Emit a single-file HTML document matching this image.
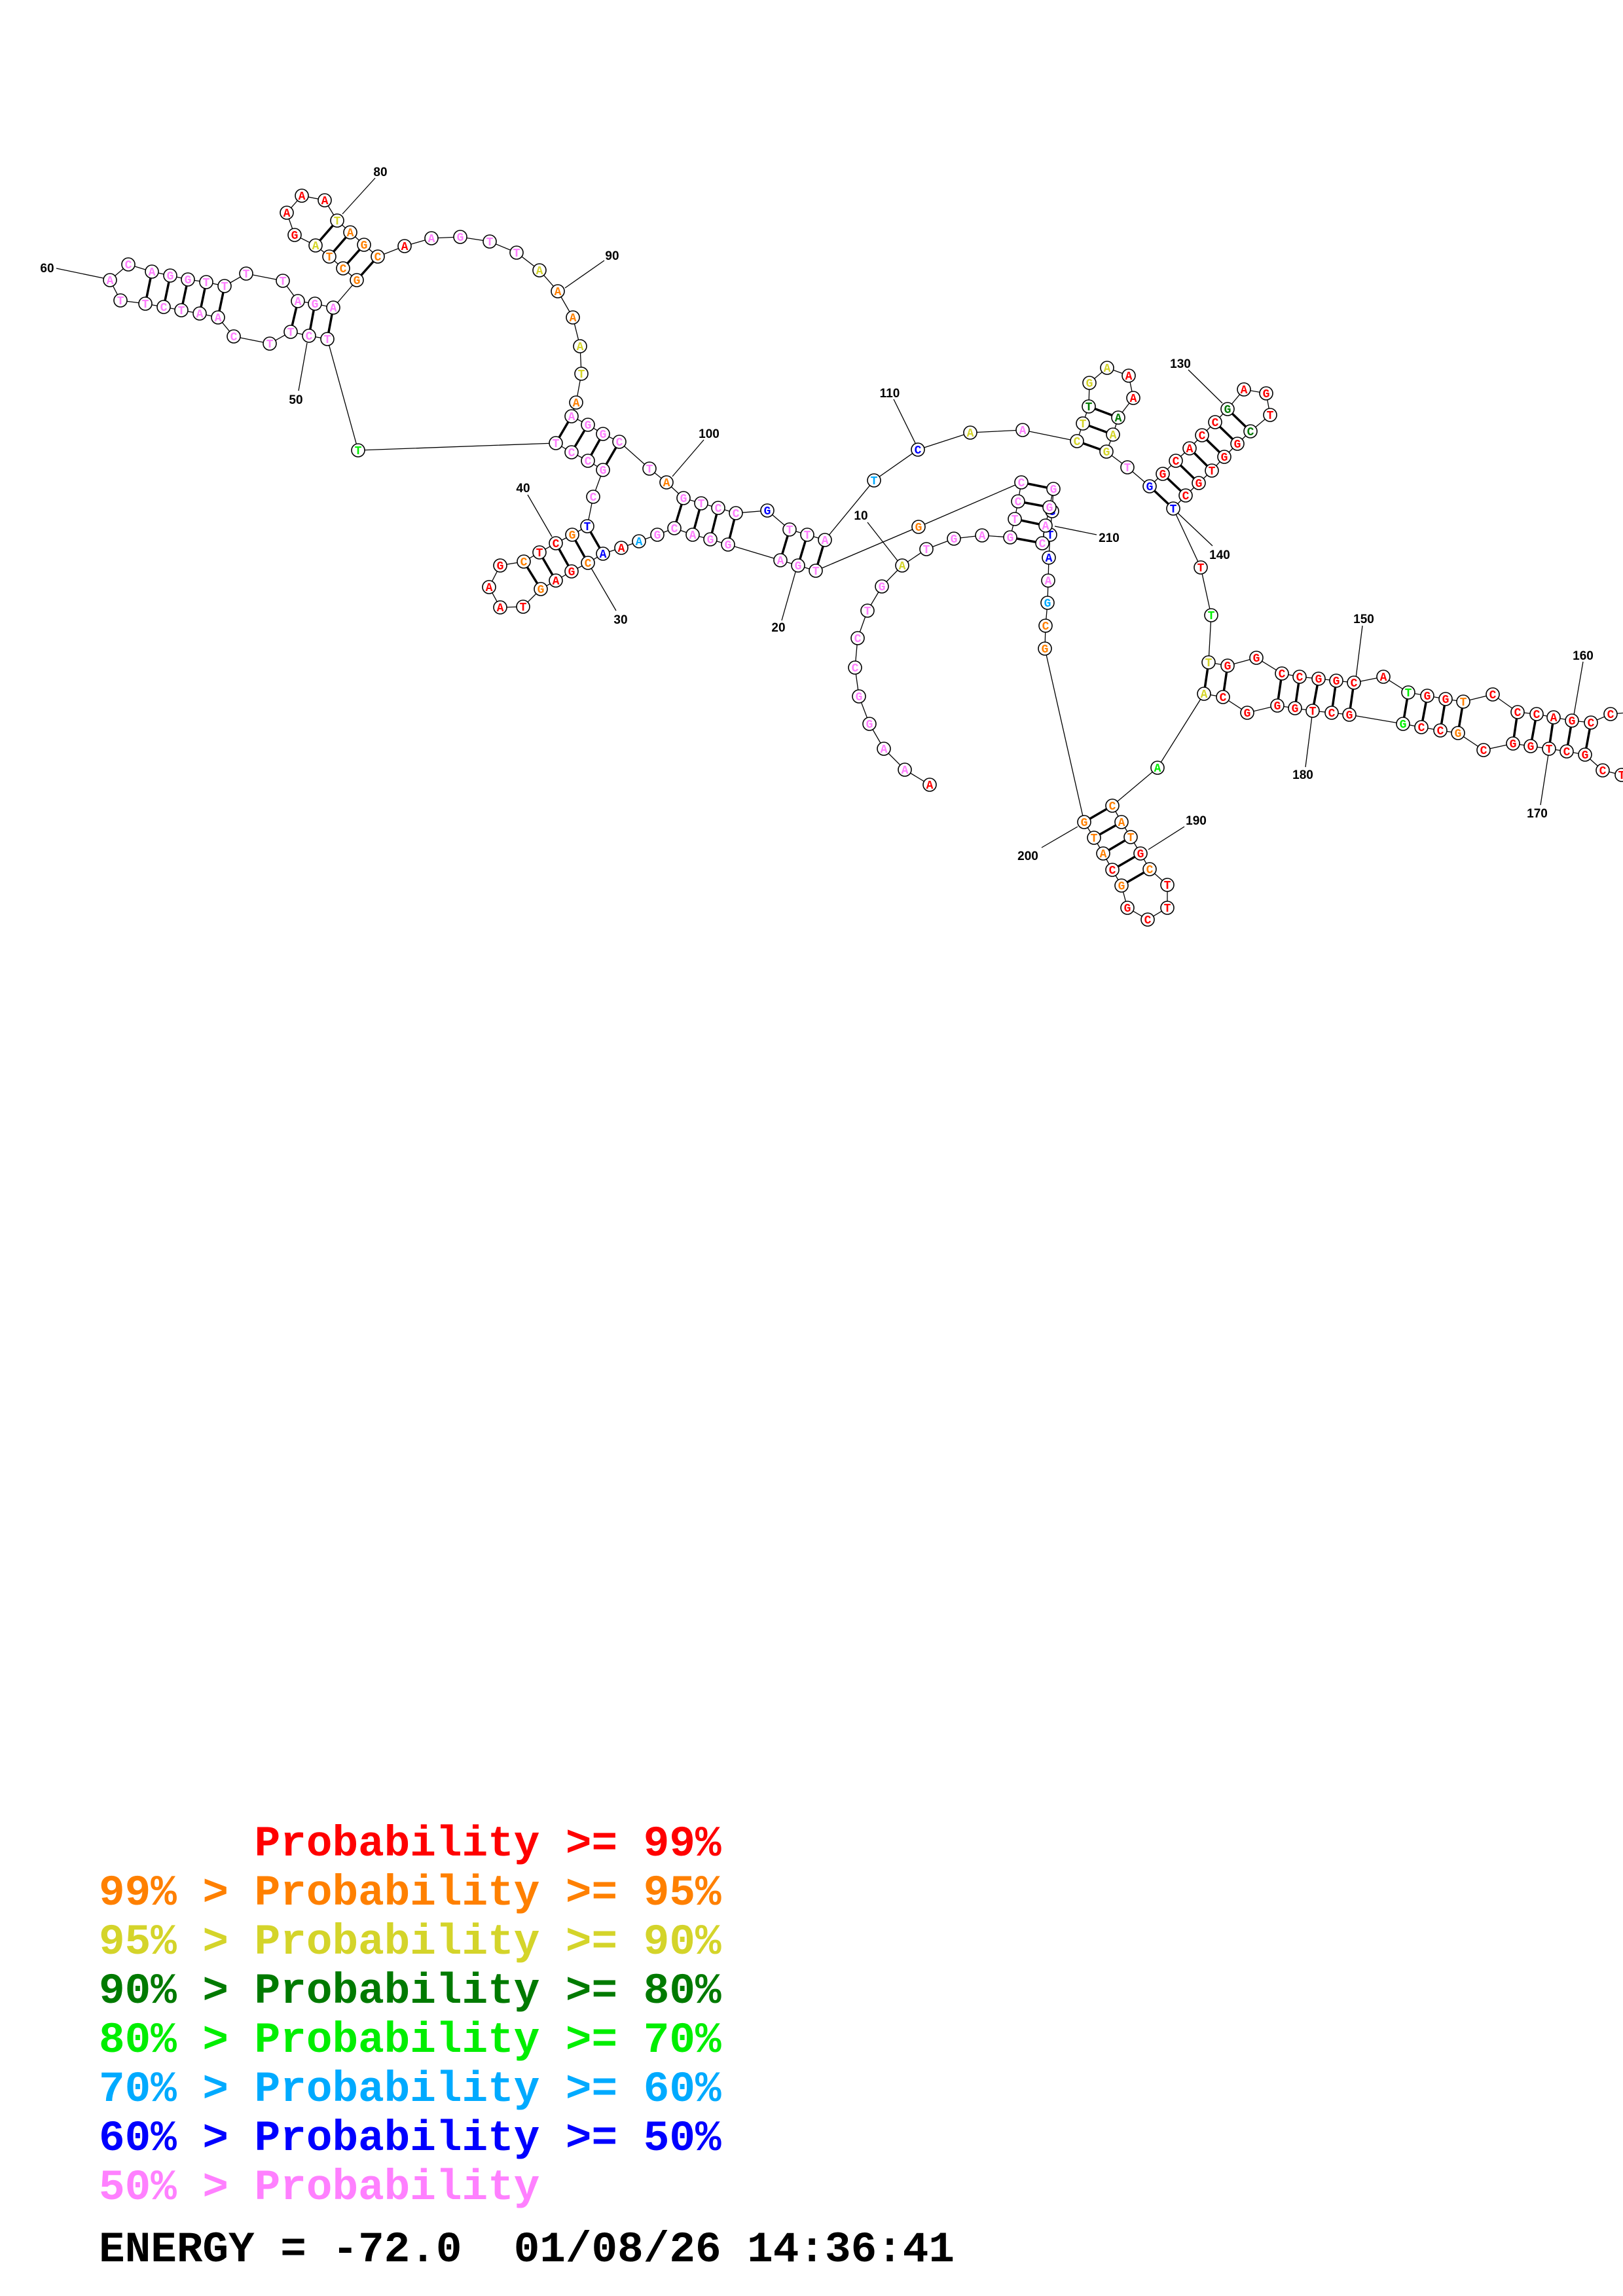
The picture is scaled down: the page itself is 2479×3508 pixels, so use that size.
<!DOCTYPE html>
<html><head><meta charset="utf-8"><style>
html,body{margin:0;padding:0;background:#fff;}
body{width:2479px;height:3508px;position:relative;overflow:hidden;}
svg{position:absolute;left:0;top:0;}
.n circle{fill:#fff;stroke:#000;stroke-width:1.6}
.n text{font-family:"Liberation Mono",monospace;font-weight:bold;font-size:18px;text-anchor:middle}
.r{fill:#ff0000}.o{fill:#ff8000}.y{fill:#d4d42a}.d{fill:#007a00}.g{fill:#00ee00}.c{fill:#00aaff}.b{fill:#0000ff}.p{fill:#ff80ff}
.lb{font-family:"Liberation Sans",sans-serif;font-weight:bold;font-size:19px;text-anchor:middle;fill:#000}
.leg{position:absolute;left:151px;margin:0;font-family:"Liberation Mono",monospace;font-weight:bold;font-size:66px;line-height:75px;white-space:pre;}
</style></head><body>
<svg width="2479" height="3508" viewBox="0 0 2479 3508">
<g fill="none" stroke="#000" stroke-width="1.3">
<polyline points="1420,1199 1382,1176 1350,1144 1328,1106 1312,1064 1306,1020 1310,975 1325,933 1347,896 1378,864 1415,839 1457,823 1500,818 1543,821 1550,793 1555,766 1560,737 1403,805 1246,872 1219,864 1192,856 1112,832 1085,824 1058,817 1030,807 1004,817 976,827 949,837 921,846 898,860 873,873 849,887 826,900 799,927 764,928 747,897 764,864 800,858 824,844 849,830 874,817 897,804 906,759 921,718 898,704 873,691 849,677 547,688 500,518 472,513 444,507 412,525 357,514 333,485 305,479 277,474 250,469 222,464 184,459 168,428 196,404 232,415 260,421 287,427 315,431 343,437 376,418 432,429 455,460 481,464 509,470 545,428 524,410 503,392 482,375 450,359 438,325 461,299 496,306 515,337 535,355 556,374 577,392 618,376 659,364 703,362 748,369 789,386 824,413 852,445 875,485 886,529 888,571 880,615 873,636 898,649 921,663 946,675 992,716 1018,737 1044,761 1071,769 1097,776 1124,784 1172,780 1206,809 1233,817 1260,825 1335,734 1402,687 1482,661 1562,657 1645,674 1654,647 1663,621 1664,585 1691,562 1724,574 1731,608 1708,638 1700,664 1690,690 1722,714 1756,743 1776,724 1796,704 1817,685 1836,665 1856,645 1875,625 1900,595 1934,601 1940,634 1910,659 1890,678 1870,698 1851,719 1831,738 1811,757 1792,777 1834,867 1850,940 1846,1012 1875,1017 1919,1005 1958,1029 1985,1034 2014,1037 2041,1040 2068,1043 2113,1034 2151,1058 2180,1063 2208,1068 2235,1072 2280,1061 2318,1088 2347,1091 2373,1096 2401,1101 2430,1104 2460,1091 2495,1088"/>
<polyline points="2500,1192 2477,1184 2448,1177 2421,1153 2393,1148 2366,1144 2338,1140 2311,1136 2266,1146 2227,1120 2200,1116 2171,1111 2143,1106 2061,1092 2034,1089 2005,1086 1978,1082 1951,1078 1905,1089 1868,1065 1839,1060 1768,1173 1699,1231 1713,1256 1727,1279 1742,1304 1756,1328 1783,1352 1783,1387 1753,1405 1722,1387 1713,1353 1699,1329 1685,1304 1671,1280 1656,1256 1596,991 1597,956 1600,921 1601,887 1602,852 1604,817 1607,781 1609,747 1603,775 1597,803 1592,830"/>
<!-- label lines -->
<path d="M86,410L158,425M469,524L456,597M573,272L523,327M863,440L923,398M1075,672L1027,728M806,756L843,820M941,933L903,868M1215,874L1194,948M1365,610L1398,677M1325,798L1372,858M1611,804L1675,817M1815,565L1867,616M1798,783L1852,834M2081,956L2071,1036M2005,1086L1994,1172M2418,1011L2403,1098M2366,1146L2353,1230M1754,1298L1809,1263M1591,1295L1646,1263"/>
</g>
<g stroke="#000" stroke-width="3.5">
<path d="M1543,821L1592,830M1550,793L1597,803M1555,766L1603,775M1560,737L1609,747M1246,872L1260,825M1219,864L1233,817M1192,856L1206,809M1112,832L1124,784M1085,824L1097,776M1058,817L1071,769M1030,807L1044,761M921,846L897,804M898,860L874,817M873,873L849,830M849,887L824,844M826,900L800,858M921,718L946,675M898,704L921,663M873,691L898,649M849,677L873,636M500,518L509,470M472,513L481,464M444,507L455,460M333,485L343,437M305,479L315,431M277,474L287,427M250,469L260,421M222,464L232,415M545,428L577,392M524,410L556,374M503,392L535,355M482,375L515,337M1645,674L1690,690M1654,647L1700,664M1663,621L1708,638M1756,743L1792,777M1776,724L1811,757M1796,704L1831,738M1817,685L1851,719M1836,665L1870,698M1856,645L1890,678M1875,625L1910,659M1846,1012L1839,1060M1875,1017L1868,1065M1958,1029L1951,1078M1985,1034L1978,1082M2014,1037L2005,1086M2041,1040L2034,1089M2068,1043L2061,1092M2151,1058L2143,1106M2180,1063L2171,1111M2208,1068L2200,1116M2235,1072L2227,1120M2318,1088L2311,1136M2347,1091L2338,1140M2373,1096L2366,1144M2401,1101L2393,1148M2430,1104L2421,1153M1699,1231L1656,1256M1713,1256L1671,1280M1727,1279L1685,1304M1742,1304L1699,1329M1756,1328L1713,1353"/>
</g>
<g class="n">
<circle cx="1420" cy="1199" r="10"/><text x="1420" y="1205" class="r">A</text>
<circle cx="1382" cy="1176" r="10"/><text x="1382" y="1182" class="p">A</text>
<circle cx="1350" cy="1144" r="10"/><text x="1350" y="1150" class="p">A</text>
<circle cx="1328" cy="1106" r="10"/><text x="1328" y="1112" class="p">G</text>
<circle cx="1312" cy="1064" r="10"/><text x="1312" y="1070" class="p">G</text>
<circle cx="1306" cy="1020" r="10"/><text x="1306" y="1026" class="p">C</text>
<circle cx="1310" cy="975" r="10"/><text x="1310" y="981" class="p">C</text>
<circle cx="1325" cy="933" r="10"/><text x="1325" y="939" class="p">T</text>
<circle cx="1347" cy="896" r="10"/><text x="1347" y="902" class="p">G</text>
<circle cx="1378" cy="864" r="10"/><text x="1378" y="870" class="y">A</text>
<circle cx="1415" cy="839" r="10"/><text x="1415" y="845" class="p">T</text>
<circle cx="1457" cy="823" r="10"/><text x="1457" y="829" class="p">G</text>
<circle cx="1500" cy="818" r="10"/><text x="1500" y="824" class="p">A</text>
<circle cx="1543" cy="821" r="10"/><text x="1543" y="827" class="p">G</text>
<circle cx="1550" cy="793" r="10"/><text x="1550" y="799" class="p">T</text>
<circle cx="1555" cy="766" r="10"/><text x="1555" y="772" class="p">C</text>
<circle cx="1560" cy="737" r="10"/><text x="1560" y="743" class="p">C</text>
<circle cx="1403" cy="805" r="10"/><text x="1403" y="811" class="o">G</text>
<circle cx="1246" cy="872" r="10"/><text x="1246" y="878" class="p">T</text>
<circle cx="1219" cy="864" r="10"/><text x="1219" y="870" class="p">G</text>
<circle cx="1192" cy="856" r="10"/><text x="1192" y="862" class="p">A</text>
<circle cx="1112" cy="832" r="10"/><text x="1112" y="838" class="p">G</text>
<circle cx="1085" cy="824" r="10"/><text x="1085" y="830" class="p">G</text>
<circle cx="1058" cy="817" r="10"/><text x="1058" y="823" class="p">A</text>
<circle cx="1030" cy="807" r="10"/><text x="1030" y="813" class="p">C</text>
<circle cx="1004" cy="817" r="10"/><text x="1004" y="823" class="p">G</text>
<circle cx="976" cy="827" r="10"/><text x="976" y="833" class="c">A</text>
<circle cx="949" cy="837" r="10"/><text x="949" y="843" class="r">A</text>
<circle cx="921" cy="846" r="10"/><text x="921" y="852" class="b">A</text>
<circle cx="898" cy="860" r="10"/><text x="898" y="866" class="o">C</text>
<circle cx="873" cy="873" r="10"/><text x="873" y="879" class="r">G</text>
<circle cx="849" cy="887" r="10"/><text x="849" y="893" class="r">A</text>
<circle cx="826" cy="900" r="10"/><text x="826" y="906" class="o">G</text>
<circle cx="799" cy="927" r="10"/><text x="799" y="933" class="r">T</text>
<circle cx="764" cy="928" r="10"/><text x="764" y="934" class="r">A</text>
<circle cx="747" cy="897" r="10"/><text x="747" y="903" class="r">A</text>
<circle cx="764" cy="864" r="10"/><text x="764" y="870" class="r">G</text>
<circle cx="800" cy="858" r="10"/><text x="800" y="864" class="o">C</text>
<circle cx="824" cy="844" r="10"/><text x="824" y="850" class="r">T</text>
<circle cx="849" cy="830" r="10"/><text x="849" y="836" class="r">C</text>
<circle cx="874" cy="817" r="10"/><text x="874" y="823" class="o">G</text>
<circle cx="897" cy="804" r="10"/><text x="897" y="810" class="b">T</text>
<circle cx="906" cy="759" r="10"/><text x="906" y="765" class="p">C</text>
<circle cx="921" cy="718" r="10"/><text x="921" y="724" class="p">G</text>
<circle cx="898" cy="704" r="10"/><text x="898" y="710" class="p">C</text>
<circle cx="873" cy="691" r="10"/><text x="873" y="697" class="p">C</text>
<circle cx="849" cy="677" r="10"/><text x="849" y="683" class="p">T</text>
<circle cx="547" cy="688" r="10"/><text x="547" y="694" class="g">T</text>
<circle cx="500" cy="518" r="10"/><text x="500" y="524" class="p">T</text>
<circle cx="472" cy="513" r="10"/><text x="472" y="519" class="p">C</text>
<circle cx="444" cy="507" r="10"/><text x="444" y="513" class="p">T</text>
<circle cx="412" cy="525" r="10"/><text x="412" y="531" class="p">T</text>
<circle cx="357" cy="514" r="10"/><text x="357" y="520" class="p">C</text>
<circle cx="333" cy="485" r="10"/><text x="333" y="491" class="p">A</text>
<circle cx="305" cy="479" r="10"/><text x="305" y="485" class="p">A</text>
<circle cx="277" cy="474" r="10"/><text x="277" y="480" class="p">T</text>
<circle cx="250" cy="469" r="10"/><text x="250" y="475" class="p">C</text>
<circle cx="222" cy="464" r="10"/><text x="222" y="470" class="p">T</text>
<circle cx="184" cy="459" r="10"/><text x="184" y="465" class="p">T</text>
<circle cx="168" cy="428" r="10"/><text x="168" y="434" class="p">A</text>
<circle cx="196" cy="404" r="10"/><text x="196" y="410" class="p">C</text>
<circle cx="232" cy="415" r="10"/><text x="232" y="421" class="p">A</text>
<circle cx="260" cy="421" r="10"/><text x="260" y="427" class="p">G</text>
<circle cx="287" cy="427" r="10"/><text x="287" y="433" class="p">G</text>
<circle cx="315" cy="431" r="10"/><text x="315" y="437" class="p">T</text>
<circle cx="343" cy="437" r="10"/><text x="343" y="443" class="p">T</text>
<circle cx="376" cy="418" r="10"/><text x="376" y="424" class="p">T</text>
<circle cx="432" cy="429" r="10"/><text x="432" y="435" class="p">T</text>
<circle cx="455" cy="460" r="10"/><text x="455" y="466" class="p">A</text>
<circle cx="481" cy="464" r="10"/><text x="481" y="470" class="p">G</text>
<circle cx="509" cy="470" r="10"/><text x="509" y="476" class="p">A</text>
<circle cx="545" cy="428" r="10"/><text x="545" y="434" class="o">G</text>
<circle cx="524" cy="410" r="10"/><text x="524" y="416" class="o">C</text>
<circle cx="503" cy="392" r="10"/><text x="503" y="398" class="o">T</text>
<circle cx="482" cy="375" r="10"/><text x="482" y="381" class="y">A</text>
<circle cx="450" cy="359" r="10"/><text x="450" y="365" class="r">G</text>
<circle cx="438" cy="325" r="10"/><text x="438" y="331" class="r">A</text>
<circle cx="461" cy="299" r="10"/><text x="461" y="305" class="r">A</text>
<circle cx="496" cy="306" r="10"/><text x="496" y="312" class="r">A</text>
<circle cx="515" cy="337" r="10"/><text x="515" y="343" class="y">T</text>
<circle cx="535" cy="355" r="10"/><text x="535" y="361" class="o">A</text>
<circle cx="556" cy="374" r="10"/><text x="556" y="380" class="o">G</text>
<circle cx="577" cy="392" r="10"/><text x="577" y="398" class="o">C</text>
<circle cx="618" cy="376" r="10"/><text x="618" y="382" class="r">A</text>
<circle cx="659" cy="364" r="10"/><text x="659" y="370" class="p">A</text>
<circle cx="703" cy="362" r="10"/><text x="703" y="368" class="p">G</text>
<circle cx="748" cy="369" r="10"/><text x="748" y="375" class="p">T</text>
<circle cx="789" cy="386" r="10"/><text x="789" y="392" class="p">T</text>
<circle cx="824" cy="413" r="10"/><text x="824" y="419" class="y">A</text>
<circle cx="852" cy="445" r="10"/><text x="852" y="451" class="o">A</text>
<circle cx="875" cy="485" r="10"/><text x="875" y="491" class="o">A</text>
<circle cx="886" cy="529" r="10"/><text x="886" y="535" class="y">A</text>
<circle cx="888" cy="571" r="10"/><text x="888" y="577" class="y">T</text>
<circle cx="880" cy="615" r="10"/><text x="880" y="621" class="o">A</text>
<circle cx="873" cy="636" r="10"/><text x="873" y="642" class="p">A</text>
<circle cx="898" cy="649" r="10"/><text x="898" y="655" class="p">G</text>
<circle cx="921" cy="663" r="10"/><text x="921" y="669" class="p">G</text>
<circle cx="946" cy="675" r="10"/><text x="946" y="681" class="p">C</text>
<circle cx="992" cy="716" r="10"/><text x="992" y="722" class="p">T</text>
<circle cx="1018" cy="737" r="10"/><text x="1018" y="743" class="o">A</text>
<circle cx="1044" cy="761" r="10"/><text x="1044" y="767" class="p">G</text>
<circle cx="1071" cy="769" r="10"/><text x="1071" y="775" class="p">T</text>
<circle cx="1097" cy="776" r="10"/><text x="1097" y="782" class="p">C</text>
<circle cx="1124" cy="784" r="10"/><text x="1124" y="790" class="p">C</text>
<circle cx="1172" cy="780" r="10"/><text x="1172" y="786" class="b">G</text>
<circle cx="1206" cy="809" r="10"/><text x="1206" y="815" class="p">T</text>
<circle cx="1233" cy="817" r="10"/><text x="1233" y="823" class="p">T</text>
<circle cx="1260" cy="825" r="10"/><text x="1260" y="831" class="p">A</text>
<circle cx="1335" cy="734" r="10"/><text x="1335" y="740" class="c">T</text>
<circle cx="1402" cy="687" r="10"/><text x="1402" y="693" class="b">C</text>
<circle cx="1482" cy="661" r="10"/><text x="1482" y="667" class="y">A</text>
<circle cx="1562" cy="657" r="10"/><text x="1562" y="663" class="p">A</text>
<circle cx="1645" cy="674" r="10"/><text x="1645" y="680" class="y">C</text>
<circle cx="1654" cy="647" r="10"/><text x="1654" y="653" class="y">T</text>
<circle cx="1663" cy="621" r="10"/><text x="1663" y="627" class="d">T</text>
<circle cx="1664" cy="585" r="10"/><text x="1664" y="591" class="y">G</text>
<circle cx="1691" cy="562" r="10"/><text x="1691" y="568" class="y">A</text>
<circle cx="1724" cy="574" r="10"/><text x="1724" y="580" class="r">A</text>
<circle cx="1731" cy="608" r="10"/><text x="1731" y="614" class="r">A</text>
<circle cx="1708" cy="638" r="10"/><text x="1708" y="644" class="d">A</text>
<circle cx="1700" cy="664" r="10"/><text x="1700" y="670" class="y">A</text>
<circle cx="1690" cy="690" r="10"/><text x="1690" y="696" class="y">G</text>
<circle cx="1722" cy="714" r="10"/><text x="1722" y="720" class="p">T</text>
<circle cx="1756" cy="743" r="10"/><text x="1756" y="749" class="b">G</text>
<circle cx="1776" cy="724" r="10"/><text x="1776" y="730" class="r">G</text>
<circle cx="1796" cy="704" r="10"/><text x="1796" y="710" class="r">C</text>
<circle cx="1817" cy="685" r="10"/><text x="1817" y="691" class="r">A</text>
<circle cx="1836" cy="665" r="10"/><text x="1836" y="671" class="r">C</text>
<circle cx="1856" cy="645" r="10"/><text x="1856" y="651" class="r">C</text>
<circle cx="1875" cy="625" r="10"/><text x="1875" y="631" class="d">G</text>
<circle cx="1900" cy="595" r="10"/><text x="1900" y="601" class="r">A</text>
<circle cx="1934" cy="601" r="10"/><text x="1934" y="607" class="r">G</text>
<circle cx="1940" cy="634" r="10"/><text x="1940" y="640" class="r">T</text>
<circle cx="1910" cy="659" r="10"/><text x="1910" y="665" class="d">C</text>
<circle cx="1890" cy="678" r="10"/><text x="1890" y="684" class="r">G</text>
<circle cx="1870" cy="698" r="10"/><text x="1870" y="704" class="r">G</text>
<circle cx="1851" cy="719" r="10"/><text x="1851" y="725" class="r">T</text>
<circle cx="1831" cy="738" r="10"/><text x="1831" y="744" class="r">G</text>
<circle cx="1811" cy="757" r="10"/><text x="1811" y="763" class="r">C</text>
<circle cx="1792" cy="777" r="10"/><text x="1792" y="783" class="b">T</text>
<circle cx="1834" cy="867" r="10"/><text x="1834" y="873" class="r">T</text>
<circle cx="1850" cy="940" r="10"/><text x="1850" y="946" class="g">T</text>
<circle cx="1846" cy="1012" r="10"/><text x="1846" y="1018" class="y">T</text>
<circle cx="1875" cy="1017" r="10"/><text x="1875" y="1023" class="r">G</text>
<circle cx="1919" cy="1005" r="10"/><text x="1919" y="1011" class="r">G</text>
<circle cx="1958" cy="1029" r="10"/><text x="1958" y="1035" class="r">C</text>
<circle cx="1985" cy="1034" r="10"/><text x="1985" y="1040" class="r">C</text>
<circle cx="2014" cy="1037" r="10"/><text x="2014" y="1043" class="r">G</text>
<circle cx="2041" cy="1040" r="10"/><text x="2041" y="1046" class="r">G</text>
<circle cx="2068" cy="1043" r="10"/><text x="2068" y="1049" class="r">C</text>
<circle cx="2113" cy="1034" r="10"/><text x="2113" y="1040" class="r">A</text>
<circle cx="2151" cy="1058" r="10"/><text x="2151" y="1064" class="g">T</text>
<circle cx="2180" cy="1063" r="10"/><text x="2180" y="1069" class="r">G</text>
<circle cx="2208" cy="1068" r="10"/><text x="2208" y="1074" class="r">G</text>
<circle cx="2235" cy="1072" r="10"/><text x="2235" y="1078" class="o">T</text>
<circle cx="2280" cy="1061" r="10"/><text x="2280" y="1067" class="r">C</text>
<circle cx="2318" cy="1088" r="10"/><text x="2318" y="1094" class="r">C</text>
<circle cx="2347" cy="1091" r="10"/><text x="2347" y="1097" class="r">C</text>
<circle cx="2373" cy="1096" r="10"/><text x="2373" y="1102" class="r">A</text>
<circle cx="2401" cy="1101" r="10"/><text x="2401" y="1107" class="r">G</text>
<circle cx="2430" cy="1104" r="10"/><text x="2430" y="1110" class="r">C</text>
<circle cx="2460" cy="1091" r="10"/><text x="2460" y="1097" class="r">C</text>
<circle cx="2477" cy="1184" r="10"/><text x="2477" y="1190" class="r">T</text>
<circle cx="2448" cy="1177" r="10"/><text x="2448" y="1183" class="r">C</text>
<circle cx="2421" cy="1153" r="10"/><text x="2421" y="1159" class="r">G</text>
<circle cx="2393" cy="1148" r="10"/><text x="2393" y="1154" class="r">C</text>
<circle cx="2366" cy="1144" r="10"/><text x="2366" y="1150" class="r">T</text>
<circle cx="2338" cy="1140" r="10"/><text x="2338" y="1146" class="r">G</text>
<circle cx="2311" cy="1136" r="10"/><text x="2311" y="1142" class="r">G</text>
<circle cx="2266" cy="1146" r="10"/><text x="2266" y="1152" class="r">C</text>
<circle cx="2227" cy="1120" r="10"/><text x="2227" y="1126" class="o">G</text>
<circle cx="2200" cy="1116" r="10"/><text x="2200" y="1122" class="r">C</text>
<circle cx="2171" cy="1111" r="10"/><text x="2171" y="1117" class="r">C</text>
<circle cx="2143" cy="1106" r="10"/><text x="2143" y="1112" class="g">G</text>
<circle cx="2061" cy="1092" r="10"/><text x="2061" y="1098" class="r">G</text>
<circle cx="2034" cy="1089" r="10"/><text x="2034" y="1095" class="r">C</text>
<circle cx="2005" cy="1086" r="10"/><text x="2005" y="1092" class="r">T</text>
<circle cx="1978" cy="1082" r="10"/><text x="1978" y="1088" class="r">G</text>
<circle cx="1951" cy="1078" r="10"/><text x="1951" y="1084" class="r">G</text>
<circle cx="1905" cy="1089" r="10"/><text x="1905" y="1095" class="r">G</text>
<circle cx="1868" cy="1065" r="10"/><text x="1868" y="1071" class="r">C</text>
<circle cx="1839" cy="1060" r="10"/><text x="1839" y="1066" class="y">A</text>
<circle cx="1768" cy="1173" r="10"/><text x="1768" y="1179" class="g">A</text>
<circle cx="1699" cy="1231" r="10"/><text x="1699" y="1237" class="o">C</text>
<circle cx="1713" cy="1256" r="10"/><text x="1713" y="1262" class="o">A</text>
<circle cx="1727" cy="1279" r="10"/><text x="1727" y="1285" class="o">T</text>
<circle cx="1742" cy="1304" r="10"/><text x="1742" y="1310" class="r">G</text>
<circle cx="1756" cy="1328" r="10"/><text x="1756" y="1334" class="o">C</text>
<circle cx="1783" cy="1352" r="10"/><text x="1783" y="1358" class="r">T</text>
<circle cx="1783" cy="1387" r="10"/><text x="1783" y="1393" class="r">T</text>
<circle cx="1753" cy="1405" r="10"/><text x="1753" y="1411" class="r">C</text>
<circle cx="1722" cy="1387" r="10"/><text x="1722" y="1393" class="r">G</text>
<circle cx="1713" cy="1353" r="10"/><text x="1713" y="1359" class="o">G</text>
<circle cx="1699" cy="1329" r="10"/><text x="1699" y="1335" class="r">C</text>
<circle cx="1685" cy="1304" r="10"/><text x="1685" y="1310" class="o">A</text>
<circle cx="1671" cy="1280" r="10"/><text x="1671" y="1286" class="o">T</text>
<circle cx="1656" cy="1256" r="10"/><text x="1656" y="1262" class="o">G</text>
<circle cx="1596" cy="991" r="10"/><text x="1596" y="997" class="o">G</text>
<circle cx="1597" cy="956" r="10"/><text x="1597" y="962" class="o">C</text>
<circle cx="1600" cy="921" r="10"/><text x="1600" y="927" class="c">G</text>
<circle cx="1601" cy="887" r="10"/><text x="1601" y="893" class="p">A</text>
<circle cx="1602" cy="852" r="10"/><text x="1602" y="858" class="b">A</text>
<circle cx="1604" cy="817" r="10"/><text x="1604" y="823" class="b">T</text>
<circle cx="1607" cy="781" r="10"/><text x="1607" y="787" class="b">G</text>
<circle cx="1609" cy="747" r="10"/><text x="1609" y="753" class="p">G</text>
<circle cx="1603" cy="775" r="10"/><text x="1603" y="781" class="p">G</text>
<circle cx="1597" cy="803" r="10"/><text x="1597" y="809" class="p">A</text>
<circle cx="1592" cy="830" r="10"/><text x="1592" y="836" class="p">C</text>
</g>
<g class="lb">
<text x="72" y="416">60</text><text x="452" y="617">50</text><text x="581" y="269">80</text><text x="935" y="397">90</text>
<text x="1083" y="669">100</text><text x="799" y="752">40</text><text x="948" y="953">30</text><text x="1189" y="965">20</text>
<text x="1359" y="607">110</text><text x="1315" y="794">10</text><text x="1694" y="828">210</text><text x="1803" y="562">130</text>
<text x="1863" y="854">140</text><text x="2083" y="952">150</text><text x="1990" y="1190">180</text><text x="2418" y="1008">160</text>
<text x="2348" y="1249">170</text><text x="1827" y="1260">190</text><text x="1570" y="1314">200</text>
</g>
</svg>
<pre class="leg" style="top:2780px;"><span style="color:#ff0000">      Probability &gt;= 99%</span>
<span style="color:#ff8000">99% &gt; Probability &gt;= 95%</span>
<span style="color:#d4d42a">95% &gt; Probability &gt;= 90%</span>
<span style="color:#007a00">90% &gt; Probability &gt;= 80%</span>
<span style="color:#00ee00">80% &gt; Probability &gt;= 70%</span>
<span style="color:#00aaff">70% &gt; Probability &gt;= 60%</span>
<span style="color:#0000ff">60% &gt; Probability &gt;= 50%</span>
<span style="color:#ff80ff">50% &gt; Probability</span></pre>
<pre class="leg" style="top:3400px;color:#000">ENERGY = -72.0  01/08/26 14:36:41</pre>
</body></html>
